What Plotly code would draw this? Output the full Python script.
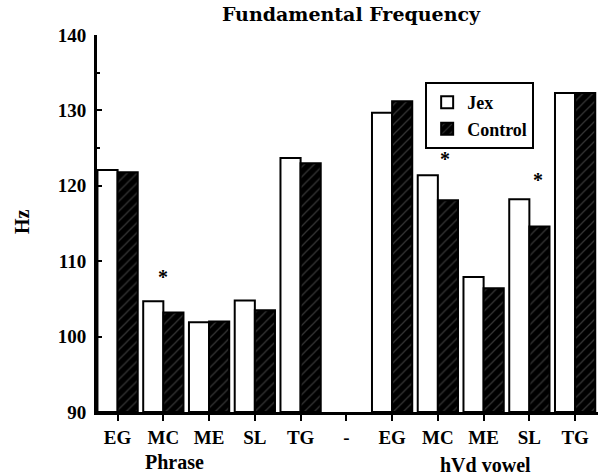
import plotly.graph_objects as go

categories = ["EG", "MC", "ME", "SL", "TG", "-", "EG", "MC", "ME", "SL", "TG"]
jex = [122.1, 104.7, 101.9, 104.8, 123.7, None, 129.7, 121.4, 107.9, 118.2, 132.3]
control = [121.8, 103.2, 102.0, 103.5, 123.0, None, 131.2, 118.1, 106.4, 114.6, 132.3]
# significance stars: (category index, y value, x offset px)
stars = [(1, 107.9, 0), (7, 123.5, 7), (9, 120.8, 9)]
group_labels = [("Phrase", 1.25, -50), ("hVd vowel", 8.05, -53)]

x = list(range(len(categories)))
FONT = "Liberation Serif"
W, H = 600, 476
ML, MR, MT, MB = 97, 2, 35, 64

fig = go.Figure()
fig.add_trace(go.Bar(
    x=x, y=[None if v is None else v - 90 for v in jex], base=90, name="<b>Jex</b>",
    marker=dict(color="white", line=dict(color="black", width=2)),
))
fig.add_trace(go.Bar(
    x=x, y=[None if v is None else v - 90 for v in control], base=90, name="<b>Control</b>",
    marker=dict(color="black", line=dict(color="black", width=2),
                pattern=dict(shape="/", fgcolor="#6a6a6a", bgcolor="black",
                             size=7, solidity=0.18)),
))

for i, yv, dx in stars:
    fig.add_annotation(x=i, y=yv, text="<b>*</b>", showarrow=False, xshift=dx,
                       font=dict(family=FONT, size=20, color="black"))

for label, xpos, dy in group_labels:
    fig.add_annotation(x=xpos, y=0, xref="x", yref="paper", yshift=dy,
                       yanchor="middle", text="<b>%s</b>" % label, showarrow=False,
                       font=dict(family=FONT, size=20, color="black"))

plot_w = W - ML - MR
plot_h = H - MT - MB
fig.add_annotation(x=(22 - ML) / plot_w, y=(H - MB - 222) / plot_h,
                   xref="paper", yref="paper", text="<b>Hz</b>",
                   showarrow=False, textangle=-90, xanchor="center", yanchor="middle",
                   font=dict(family=FONT, size=20, color="black"))

fig.update_layout(
    width=W, height=H,
    margin=dict(l=ML, r=MR, t=MT, b=MB),
    paper_bgcolor="white", plot_bgcolor="white",
    barmode="group", bargap=0.12, bargroupgap=0,
    title=dict(text="<b>Fundamental Frequency</b>", x=(351) / W, xanchor="center",
               y=1 - 14 / H, yanchor="middle",
               font=dict(family="DejaVu Serif", size=19, color="black")),
    font=dict(family=FONT, color="black"),
    legend=dict(x=0.655, y=0.875, xanchor="left", yanchor="top",
                bordercolor="black", borderwidth=2, bgcolor="white",
                font=dict(family=FONT, size=18, color="black"),
                itemsizing="constant", tracegroupgap=2),
    showlegend=True,
)
fig.update_xaxes(
    range=[-0.45, 10.5], tickmode="array", tickvals=x,
    ticktext=["<b>%s</b>" % c for c in categories],
    showline=True, linecolor="black", linewidth=3,
    ticks="outside", ticklen=6, tickwidth=2, tickcolor="black",
    tickfont=dict(family=FONT, size=19, color="black"),
    showgrid=False, zeroline=False, automargin=False,
)
fig.update_yaxes(
    range=[90, 140], tickvals=[90, 100, 110, 120, 130, 140],
    ticktext=["<b>%d</b>" % v for v in [90, 100, 110, 120, 130, 140]],
    showline=True, linecolor="black", linewidth=3,
    ticks="inside", ticklen=5, tickwidth=2, tickcolor="black",
    minor=dict(tickvals=[125, 135], ticks="inside", ticklen=3, tickcolor="black"),
    tickfont=dict(family=FONT, size=19, color="black"),
    ticklabelstandoff=4,
    showgrid=False, zeroline=False, automargin=False,
)
fig.write_html("out.html", config={"displayModeBar": False},
               post_script="document.body.style.margin='0px';")
